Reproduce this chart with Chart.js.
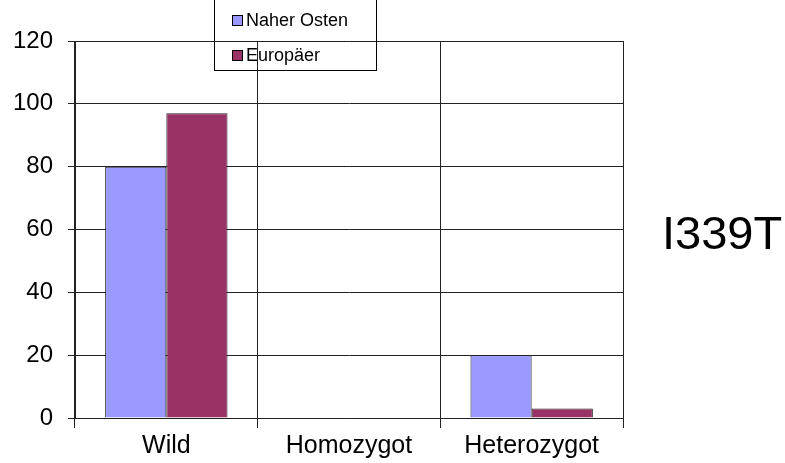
<!DOCTYPE html>
<html>
<head>
<meta charset="utf-8">
<script src="https://cdn.jsdelivr.net/npm/chart.js@4/dist/chart.umd.min.js"></script>
<style>
  html, body { margin: 0; padding: 0; background: #fff; }
  #wrap { width: 785px; height: 463px; }
</style>
</head>
<body>
<div id="wrap"><canvas id="myChart" width="785" height="463"></canvas></div>
<script>
// data
var categories = ["Wild", "Homozygot", "Heterozygot"];
var seriesNames = ["Naher Osten", "Europäer"];
var naherOsten = [80, 0, 20];
var europaer = [97, 0, 3];
var yTicks = [0, 20, 40, 60, 80, 100, 120];
var chartTitle = "I339T";

var barColors = ["#9999FF", "#993366"];
var fontName = "'Liberation Sans', Arial, sans-serif";

// legend box + big title on the right, drawn by hand
var extras = {
    id: "extras",
    afterDraw: function (chart) {
        var ctx = chart.ctx;
        ctx.save();
        // legend (transparent, sits over the plot)
        ctx.strokeStyle = "#000";
        ctx.lineWidth = 1;
        ctx.strokeRect(214.5, -1.5, 162, 72);
        ctx.font = "18px " + fontName;
        ctx.textBaseline = "middle";
        var ys = [20, 55];
        for (let i = 0; i < seriesNames.length; i++) {
            ctx.fillStyle = barColors[i];
            ctx.fillRect(232, ys[i] - 5, 11, 11);
            ctx.strokeStyle = "#000";
            ctx.strokeRect(232.5, ys[i] - 4.5, 10, 10);
            ctx.fillStyle = "#000";
            ctx.fillText(seriesNames[i], 246, ys[i] + 1);
        }
        // title
        ctx.font = "47px " + fontName;
        ctx.textBaseline = "alphabetic";
        ctx.textAlign = "left";
        ctx.fillText(chartTitle, 662, 249);
        ctx.restore();
    }
};

new Chart("myChart", {
    type: "bar",
    data: {
        labels: categories,
        datasets: [{
            label: seriesNames[0],
            data: naherOsten,
            backgroundColor: barColors[0],
            borderColor: "#222",
            borderWidth: 1
        }, {
            label: seriesNames[1],
            data: europaer,
            backgroundColor: barColors[1],
            borderColor: "#222",
            borderWidth: 1
        }]
    },
    options: {
        responsive: false,
        animation: false,
        layout: { padding: { left: 0, right: 162, top: 41, bottom: 0 } },
        datasets: { bar: { categoryPercentage: 0.67, barPercentage: 1.0 } },
        plugins: {
            legend: { display: false },
            title: { display: false },
            tooltip: { enabled: false }
        },
        scales: {
            x: {
                grid: { offset: true, color: "#222", lineWidth: 1, tickLength: 10, drawTicks: true },
                border: { color: "#222" },
                ticks: { color: "#000", font: { family: fontName, size: 25 }, padding: 3 },
                afterFit: function (scale) { scale.height = 45; }
            },
            y: {
                min: 0,
                max: 120,
                afterBuildTicks: function (scale) {
                    scale.ticks = yTicks.map(v => ({ value: v }));
                },
                grid: { color: "#222", lineWidth: 1, tickLength: 7 },
                border: { color: "#222" },
                ticks: { color: "#000", font: { family: fontName, size: 24 }, padding: 15 },
                afterFit: function (scale) { scale.width = 75; }
            }
        }
    },
    plugins: [extras]
});
</script>
</body>
</html>
